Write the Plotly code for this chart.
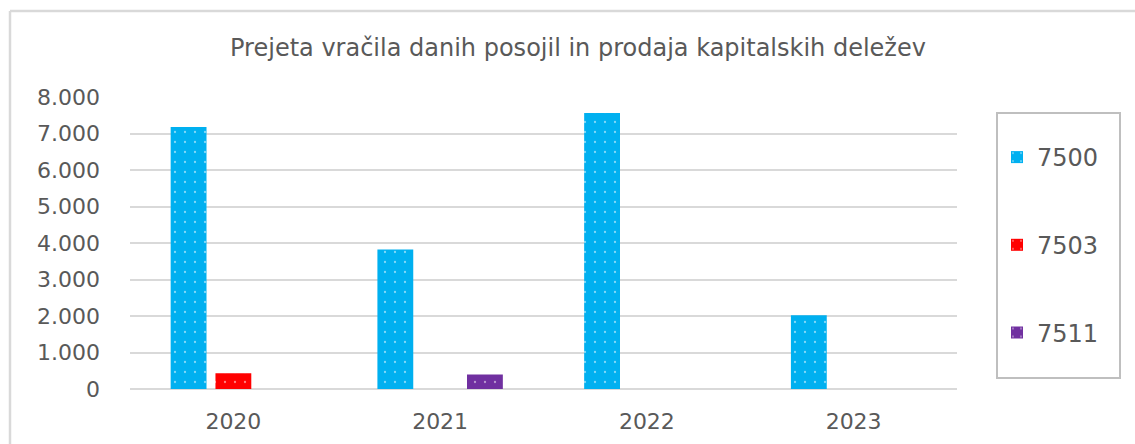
import plotly.graph_objects as go

categories = ["2020", "2021", "2022", "2023"]
series_names = ["7500", "7503", "7511"]
values_7500 = [7180, 3820, 7560, 2020]
values_7503 = [430, None, None, None]
values_7511 = [None, 400, None, None]
colors = ["#00B0F0", "#FF0000", "#7030A0"]
y_ticks = [0, 1000, 2000, 3000, 4000, 5000, 6000, 7000, 8000]

FONT = "DejaVu Sans"
TXT = "#595959"

fig = go.Figure()
for i, (name, vals) in enumerate(zip(series_names, [values_7500, values_7503, values_7511])):
    fig.add_trace(go.Bar(
        x=categories, y=vals, name=name, legendgroup=name,
        marker=dict(color=colors[i], line=dict(width=0),
                    pattern=dict(shape=".", fgcolor="white", bgcolor=colors[i],
                                 size=10, solidity=0.04, fillmode="overlay")),
    ))

W, H = 1135, 444
L, R, T, B = 130, 178, 97, 55
pw, ph = W - L - R, H - T - B

def px(x):
    return (x - L) / pw

def py(y):
    return (H - B - y) / ph

fig.update_layout(
    width=W, height=H,
    margin=dict(l=L, r=R, t=T, b=B, autoexpand=False),
    paper_bgcolor="white", plot_bgcolor="white",
    separators=",.",
    font=dict(family=FONT, color=TXT, size=22),
    barmode="group", bargap=0.35, bargroupgap=0.2,
    title=dict(text="Prejeta vračila danih posojil in prodaja kapitalskih deležev",
               x=578 / W, xref="container", xanchor="center",
               y=1 - 48 / H, yref="container", yanchor="middle",
               font=dict(family=FONT, size=24, color=TXT)),
    xaxis=dict(showgrid=False, showline=False, ticks="", ticklabelstandoff=17,
               tickfont=dict(size=22, color=TXT)),
    yaxis=dict(range=[0, 8000], tickvals=y_ticks, tickformat=",d",
               showgrid=True, gridcolor="#D9D9D9", gridwidth=2,
               zeroline=True, zerolinecolor="#D9D9D9", zerolinewidth=2,
               showline=False, ticks="", ticklabelstandoff=29,
               tickfont=dict(size=22, color=TXT)),
    legend=dict(x=px(997), xanchor="left", y=py(135), yanchor="top",
                tracegroupgap=53.5, borderwidth=0, bgcolor="rgba(0,0,0,0)",
                font=dict(size=24, color=TXT, family=FONT)),
    showlegend=True,
    shapes=[
        dict(type="rect", xref="paper", yref="paper",
             x0=px(997), x1=px(1120), y0=py(378), y1=py(113),
             line=dict(color="#BFBFBF", width=2), fillcolor="rgba(0,0,0,0)"),
        dict(type="line", xref="paper", yref="paper",
             x0=px(10), x1=px(1140), y0=py(11), y1=py(11),
             line=dict(color="#D9D9D9", width=2.5)),
        dict(type="line", xref="paper", yref="paper",
             x0=px(10), x1=px(10), y0=py(11), y1=py(450),
             line=dict(color="#D9D9D9", width=2.5)),
    ],
)

fig.write_html("out.html", config={"displayModeBar": False},
               post_script="document.body.style.margin='0';document.body.style.overflow='hidden';")
